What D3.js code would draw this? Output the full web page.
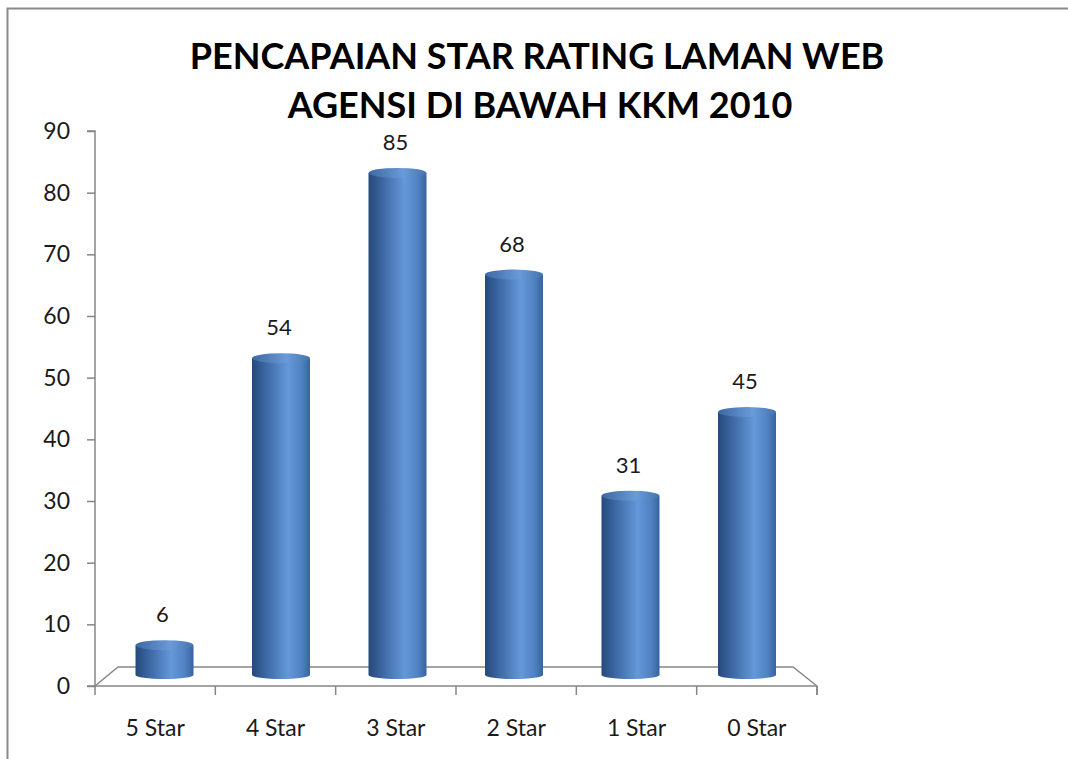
<!DOCTYPE html>
<html lang="en">
<head>
<meta charset="UTF-8">
<title>Pencapaian Star Rating</title>
<style>
    body { margin: 0; background: #fff; }
    svg { display: block; }
    .title { font: bold 36px Lato, "Open Sans", sans-serif; fill: #000; text-anchor: middle; }
    .axis text { font: 23px Lato, "Open Sans", sans-serif; fill: #1a1a1a; }
    .axis path, .axis line { stroke: #868686; stroke-width: 1.5px; }
    .val { font: 22px Lato, "Open Sans", sans-serif; fill: #1a1a1a; text-anchor: middle; }
</style>
</head>
<body>
<div id="chart"></div>
<script src="https://cdn.jsdelivr.net/npm/d3@7"></script>
<script>
    // data
    var categories = ["5 Star", "4 Star", "3 Star", "2 Star", "1 Star", "0 Star"]
    var values = [6, 54, 85, 68, 31, 45]
    var yTicks = [0, 10, 20, 30, 40, 50, 60, 70, 80, 90]
    var titleLines = ["PENCAPAIAN STAR RATING LAMAN WEB", "AGENSI DI BAWAH KKM 2010"]

    var W = 1068, H = 759
    var svg = d3.select("#chart").append("svg").attr("width", W).attr("height", H)

    // outer chart frame (only top and left edges are in view)
    svg.append("path")
        .attr("d", "M7.5," + H + "V8.5H" + W)
        .attr("fill", "none").attr("stroke", "#8a8a8a").attr("stroke-width", 2)

    svg.selectAll(".title").data(titleLines).enter().append("text")
        .attr("class", "title")
        .attr("x", function (d, i) { return i ? 540 : 537 })
        .attr("y", function (d, i) { return 69 + i * 49 })
        .text(function (d) { return d })

    // front axis scales
    var x = d3.scaleBand().domain(categories).range([95, 817]).padding(0)
    var y = d3.scaleLinear().domain([0, 90]).range([686, 131])

    // bars sit halfway back in the 3d box, so a slightly smaller projection
    var xBar = d3.scalePoint().domain(categories).range([164.5, 747])
    var yBar = d3.scaleLinear().domain([0, 90]).range([681, 143])
    var barW = 58, baseY = 675, ryTop = 5, ryBase = 4

    var depthX = 23, depthY = -19

    // floor
    var x0 = x.range()[0], x1 = x.range()[1], y0 = y(0)
    svg.append("path")
        .attr("d", "M" + x0 + "," + y0 + "L" + (x0 + depthX) + "," + (y0 + depthY) +
            "H" + (x1 - depthX - 1) + "L" + x1 + "," + y0 + "V" + (y0 + 9))
        .attr("fill", "#fff").attr("stroke", "#868686").attr("stroke-width", 1.5)

    // y axis
    var yAxis = svg.append("g").attr("class", "axis")
        .attr("transform", "translate(" + x0 + ",0)")
        .call(d3.axisLeft(y).tickValues(yTicks).tickSize(8).tickPadding(17))
    yAxis.select(".domain").attr("d", "M-8," + y(90) + "H0V" + y(0) + "H-8")

    // x axis along the front edge of the floor
    var xAxis = svg.append("g").attr("class", "axis")
        .attr("transform", "translate(0," + y0 + ")")
    xAxis.append("line").attr("x1", x0).attr("x2", x1)
    xAxis.selectAll(".tk").data(categories.concat([null])).enter().append("line")
        .attr("class", "tk")
        .attr("x1", function (d, i) { return i < categories.length ? x(d) : x1 })
        .attr("x2", function (d, i) { return i < categories.length ? x(d) : x1 })
        .attr("y1", 0).attr("y2", 9)
    xAxis.selectAll("text").data(categories).enter().append("text")
        .attr("x", function (d) { return x(d) + x.bandwidth() / 2 })
        .attr("y", 50)
        .attr("text-anchor", "middle")
        .text(function (d) { return d })

    // cylinder gradients
    var defs = svg.append("defs")
    var sideGrad = defs.append("linearGradient").attr("id", "side")
        .attr("x1", "0%").attr("x2", "100%").attr("y1", "0%").attr("y2", "0%")
    sideGrad.append("stop").attr("offset", "0%").attr("stop-color", "#26497a")
    sideGrad.append("stop").attr("offset", "22%").attr("stop-color", "#3a65a0")
    sideGrad.append("stop").attr("offset", "62%").attr("stop-color", "#6498d9")
    sideGrad.append("stop").attr("offset", "85%").attr("stop-color", "#5182c2")
    sideGrad.append("stop").attr("offset", "100%").attr("stop-color", "#37649e")
    var capGrad = defs.append("linearGradient").attr("id", "cap")
        .attr("x1", "0%").attr("x2", "100%").attr("y1", "0%").attr("y2", "0%")
    capGrad.append("stop").attr("offset", "0%").attr("stop-color", "#3d68a3")
    capGrad.append("stop").attr("offset", "60%").attr("stop-color", "#6a9bd8")
    capGrad.append("stop").attr("offset", "100%").attr("stop-color", "#4573af")

    var bars = svg.selectAll(".bar").data(values).enter().append("g").attr("class", "bar")

    bars.append("path")
        .attr("fill", "url(#side)")
        .attr("d", function (d, i) {
            var cx = xBar(categories[i]), l = cx - barW / 2, r = cx + barW / 2, t = yBar(d)
            return "M" + l + "," + t + "V" + baseY +
                "A" + (barW / 2) + "," + ryBase + " 0 0 0 " + r + "," + baseY +
                "V" + t + "Z"
        })
    bars.append("ellipse")
        .attr("fill", "url(#cap)")
        .attr("cx", function (d, i) { return xBar(categories[i]) })
        .attr("cy", function (d) { return yBar(d) })
        .attr("rx", barW / 2).attr("ry", ryTop)

    bars.append("text")
        .attr("class", "val")
        .attr("x", function (d, i) { return xBar(categories[i]) - 2 })
        .attr("y", function (d) { return yBar(d) - ryTop - 18 })
        .text(function (d) { return d })
</script>
</body>
</html>
